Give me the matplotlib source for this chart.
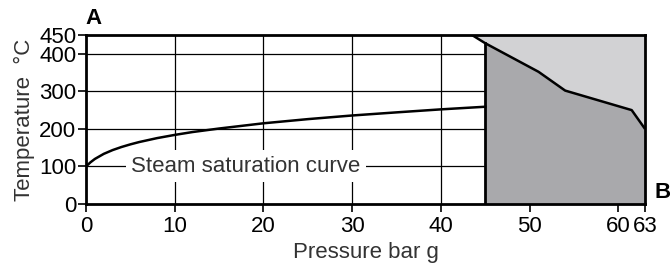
import matplotlib
matplotlib.use("Agg")
import matplotlib.pyplot as plt
from matplotlib.patches import Polygon
import numpy as np

plt.rcParams['font.family'] = ['Liberation Sans', 'DejaVu Sans']

# Steam saturation curve (pressure bar g -> temperature °C)
sat_p = [0, 0.5, 1, 2, 3, 4, 5, 6, 8, 10, 12, 15, 20, 25, 30, 35, 40, 45]
sat_t = [100, 111, 120, 133.5, 143.6, 151.8, 158.8, 165, 175.4, 184, 191.6, 201, 214.9, 226, 235.7, 244, 252, 259]

# Limit line of the shaded region
lim_p = [43.5, 45, 51, 54, 61.5, 63]
lim_t = [450, 428, 352, 302, 250, 200]

x_ticks = [0, 10, 20, 30, 40, 50, 60, 63]
y_ticks = [0, 100, 200, 300, 400, 450]
grid_x = [10, 20, 30, 40]
grid_y = [100, 200, 300, 400]

fig = plt.figure(figsize=(6.7, 2.66), dpi=100)
ax = fig.add_axes([0.1284, 0.2331, 0.8343, 0.6353])
ax.set_xlim(0, 63)
ax.set_ylim(0, 450)

for gx in grid_x:
    ax.axvline(gx, color='black', lw=0.9, zorder=1)
for gy in grid_y:
    ax.axhline(gy, color='black', lw=0.9, zorder=1)

# light region above the limit line
light_pts = list(zip(lim_p, lim_t)) + [(63, 450)]
ax.add_patch(Polygon(light_pts, closed=True, fc='#d2d2d4', ec='none', zorder=2))
# dark region below the limit line, right of 45 bar
lp = np.array(lim_p); lt = np.array(lim_t)
mask = lp >= 45
dark_pts = [(45, 0)] + list(zip(lp[mask], lt[mask])) + [(63, 0)]
ax.add_patch(Polygon(dark_pts, closed=True, fc='#a9a9ac', ec='none', zorder=2))

ax.plot(lim_p, lim_t, color='black', lw=1.8, zorder=5, solid_capstyle='butt')
ax.plot([45, 45], [0, 428], color='black', lw=2.0, zorder=5)
ax.plot(sat_p, sat_t, color='black', lw=1.8, zorder=5)

ax.text(18, 100, 'Steam saturation curve', ha='center', va='center', fontsize=16,
        color='#333333', zorder=6,
        bbox=dict(boxstyle='square,pad=0.25', fc='white', ec='none'))

ax.set_xticks(x_ticks)
ax.set_yticks(y_ticks)
ax.tick_params(direction='out', length=6, width=1.2, labelsize=16, colors='black')
ax.tick_params(axis='x', pad=3)
ax.tick_params(axis='y', pad=1)
for sp in ax.spines.values():
    sp.set_linewidth(2.0)
    sp.set_zorder(7)

ax.set_xlabel('Pressure bar g', fontsize=16, color='#333333', labelpad=3)
ax.set_ylabel('Temperature  °C', fontsize=16, color='#333333', labelpad=3)

fig.text(93 / 670, 1 - 18.5 / 266, 'A', fontsize=16, fontweight='bold', ha='center', va='center')
fig.text(663 / 670, 1 - 192 / 266, 'B', fontsize=16, fontweight='bold', ha='center', va='center')

fig.savefig('out.png', dpi=100)
